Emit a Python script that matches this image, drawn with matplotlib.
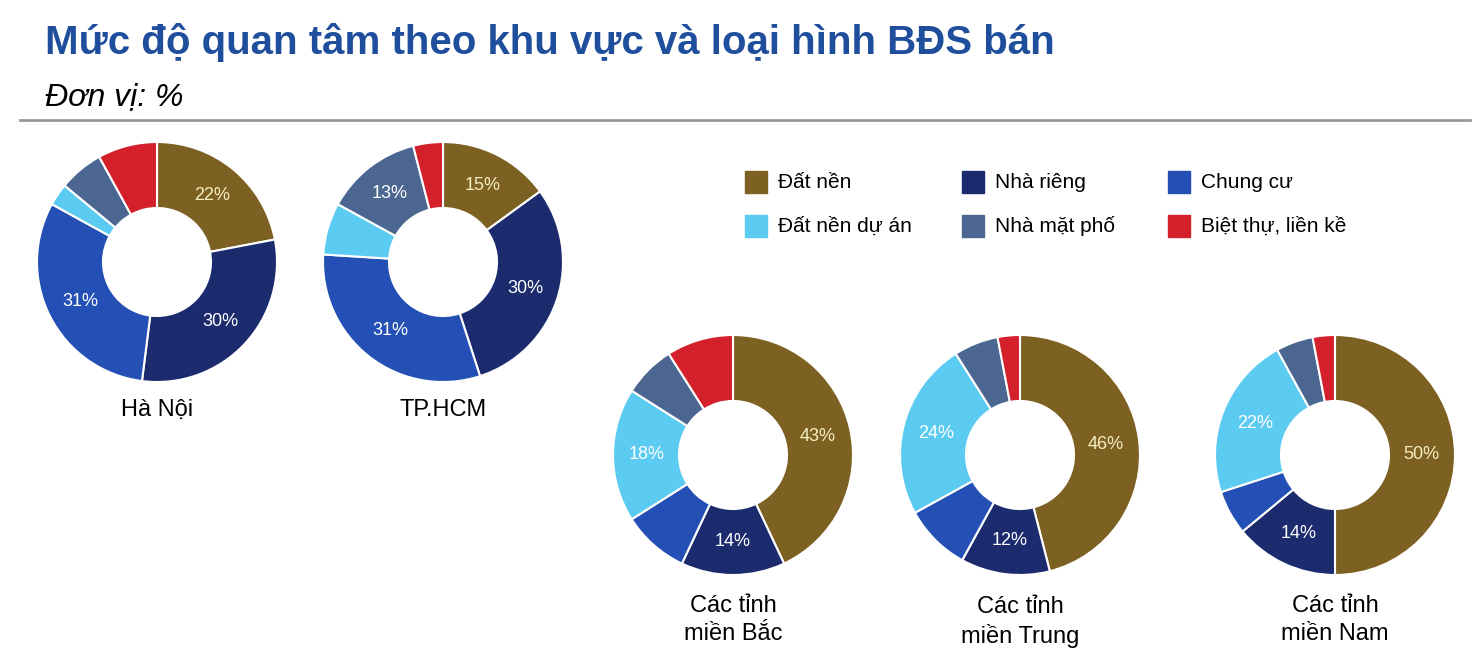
import matplotlib.pyplot as plt

plt.rcParams["font.family"] = ["Liberation Sans", "DejaVu Sans"]

W, H = 1480, 661

categories = ["Đất nền", "Nhà riêng", "Chung cư", "Đất nền dự án", "Nhà mặt phố", "Biệt thự, liền kề"]
colors = ["#7d6122", "#1b2b6e", "#2450b5", "#5ccbf2", "#4b6791", "#d4202a"]

regions = ["Hà Nội", "TP.HCM", "Các tỉnh\nmiền Bắc", "Các tỉnh\nmiền Trung", "Các tỉnh\nmiền Nam"]
values = [
    [22, 30, 31, 3, 6, 8],
    [15, 30, 31, 7, 13, 4],
    [43, 14, 9, 18, 7, 9],
    [46, 12, 9, 24, 6, 3],
    [50, 14, 6, 22, 5, 3],
]
# pie centres in pixels (x, y from top), radius
centres = [(157, 262), (443, 262), (733, 455), (1020, 455), (1335, 455)]
radius = 120
label_y = [410, 410, 620, 622, 620]

fig = plt.figure(figsize=(W / 100, H / 100), dpi=100)
fig.patch.set_facecolor("white")

fig.text(45 / W, 1 - 42 / H, "Mức độ quan tâm theo khu vực và loại hình BĐS bán",
         color="#1f4e9c", fontsize=29, fontweight="bold", va="center")
fig.text(45 / W, 1 - 97 / H, "Đơn vị: %", fontsize=23, style="italic", va="center")
fig.add_artist(plt.Line2D([20 / W, 1470 / W], [1 - 120 / H] * 2, color="#999999", lw=2))

for vals, (cx, cy), name, ly in zip(values, centres, regions, label_y):
    ax = fig.add_axes([(cx - radius) / W, 1 - (cy + radius) / H, 2 * radius / W, 2 * radius / H])
    wedges, texts = ax.pie(vals, colors=colors, startangle=90, counterclock=False,
                           wedgeprops=dict(width=0.55, edgecolor="white", linewidth=1.5),
                           labels=[f"{v}%" if v >= 12 else "" for v in vals],
                           labeldistance=0.72)
    for i, t in enumerate(texts):
        t.set_color("#f5eec0" if i == 0 else "white")
        t.set_fontsize(13)
        t.set_ha("center")
        t.set_va("center")
    ax.set_xlim(-1, 1)
    ax.set_ylim(-1, 1)
    ax.set_aspect("equal")
    fig.text(cx / W, 1 - ly / H, name, ha="center", va="center", fontsize=17, linespacing=1.3)

# legend
leg_x = [745, 962, 1168]
leg_y = [182, 226]
for i, (cat, col) in enumerate(zip(categories, colors)):
    x = leg_x[i % 3]
    y = leg_y[i // 3]
    fig.patches.append(plt.Rectangle((x / W, 1 - (y + 11) / H), 22 / W, 22 / H,
                                     transform=fig.transFigure, color=col))
    fig.text((x + 33) / W, 1 - y / H, cat, fontsize=15, va="center")

fig.savefig("out.png", dpi=100)
